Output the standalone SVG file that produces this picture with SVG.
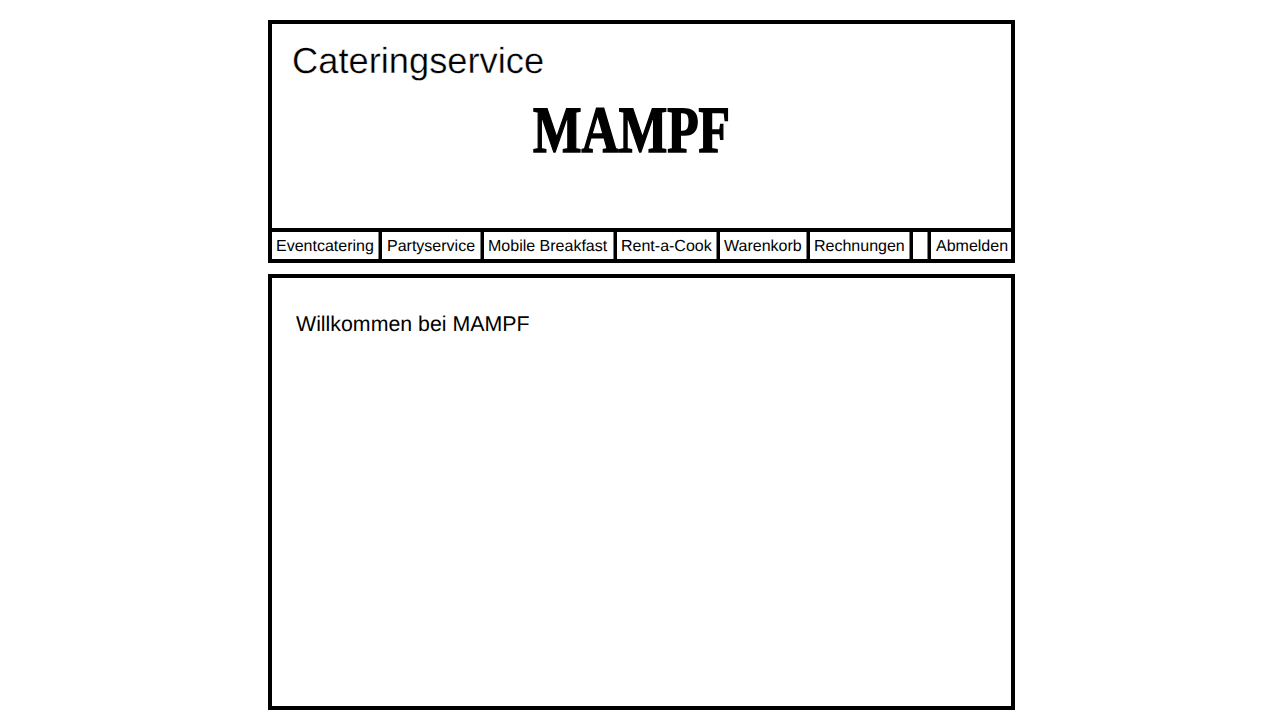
<svg xmlns="http://www.w3.org/2000/svg" width="1280" height="720" viewBox="0 0 1280 720">
<style>
.box{fill:#fff;stroke:#000;stroke-width:4}
.sep{fill:#000}
text{font-family:"Liberation Sans",Arial,sans-serif;fill:#000;text-rendering:geometricPrecision}
.nav{font-size:16px}
.logo{font-family:"Liberation Serif",serif;font-weight:bold;font-size:66px;stroke:#000;stroke-width:1.6}
.thin{stroke:#fff;stroke-width:.35}
</style>
<rect width="1280" height="720" fill="#fff"/>
<g id="header">
<rect class="box" x="270" y="22" width="743" height="239"/>
<text class="thin" x="292" y="72.5" font-size="36.3">Cateringservice</text>
<text class="logo" x="533" y="151.5" textLength="197" lengthAdjust="spacingAndGlyphs">MAMPF</text>
</g>
<g id="nav">
<rect class="sep" x="268" y="228" width="747" height="4"/>
<rect class="sep" x="378.5" y="230" width="3.5" height="31"/>
<rect class="sep" x="480.5" y="230" width="3.5" height="31"/>
<rect class="sep" x="613.5" y="230" width="3.5" height="31"/>
<rect class="sep" x="716.5" y="230" width="3.5" height="31"/>
<rect class="sep" x="806.5" y="230" width="3.5" height="31"/>
<rect class="sep" x="909.5" y="230" width="3.5" height="31"/>
<rect class="sep" x="927.5" y="230" width="3.5" height="31"/>
<text class="nav" x="276" y="251">Eventcatering</text>
<text class="nav" x="387" y="251">Partyservice</text>
<text class="nav" x="488" y="251">Mobile Breakfast</text>
<text class="nav" x="621" y="251">Rent-a-Cook</text>
<text class="nav" x="724" y="251">Warenkorb</text>
<text class="nav" x="814" y="251">Rechnungen</text>
<text class="nav" x="936" y="251">Abmelden</text>
</g>
<g id="main">
<rect class="box" x="270" y="276" width="743" height="432"/>
<text x="296" y="331" font-size="21.33">Willkommen bei MAMPF</text>
</g>
</svg>
